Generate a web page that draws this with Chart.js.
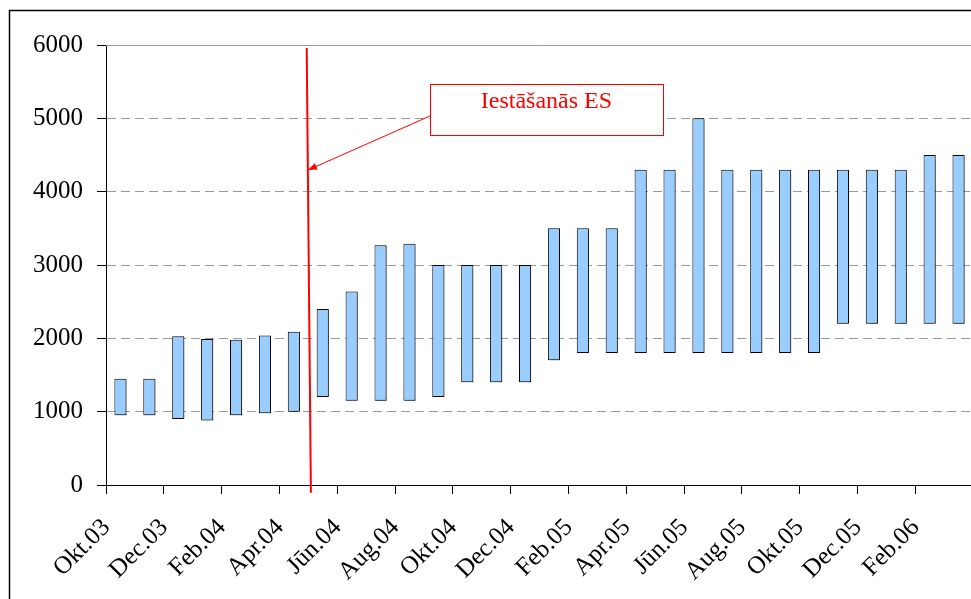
<!DOCTYPE html>
<html><head><meta charset="utf-8">
<script src="https://cdn.jsdelivr.net/npm/chart.js@4.4.1/dist/chart.umd.min.js"></script>
<style>
html,body{margin:0;padding:0;overflow:hidden;background:#fff;width:971px;height:599px}
#wrap{position:absolute;left:0;top:0;width:973px;height:599px}
</style>
</head><body><div id="wrap"><canvas id="c" width="973" height="599"></canvas></div>
<script>
const months = ['Okt.03','Nov.03','Dec.03','Jan.04','Feb.04','Mar.04','Apr.04','Mai.04','Jūn.04','Jūl.04','Aug.04','Sep.04','Okt.04','Nov.04','Dec.04','Jan.05','Feb.05','Mar.05','Apr.05','Mai.05','Jūn.05','Jūl.05','Aug.05','Sep.05','Okt.05','Nov.05','Dec.05','Jan.06','Feb.06','Mar.06'];
const lowValues  = [950,950,900,880,950,980,1000,1200,1150,1150,1150,1200,1400,1400,1400,1700,1800,1800,1800,1800,1800,1800,1800,1800,1800,2200,2200,2200,2200,2200];
const highValues = [1450,1450,2030,1990,1980,2040,2090,2400,2640,3270,3290,3000,3000,3000,3000,3500,3500,3500,4300,4300,5000,4300,4300,4300,4300,4300,4300,4300,4500,4500];
const yMin = 0, yMax = 6000, yStep = 1000;
const annotationText = 'Iestāšanās ES';
// annotation anchors in data coordinates (category index, value)
const eventLine = { fromIndex: 6.445, fromValue: 5960, toIndex: 6.59, toValue: -105 };
const calloutBox = { left: 10.71, right: 18.77, top: 5466, bottom: 4773 };
const calloutArrow = { fromIndex: 10.71, fromValue: 5032, toIndex: 6.49, toValue: 4295 };

const FONT = "'Liberation Serif', 'Times New Roman', serif";

const ranges = months.map((m, i) => [lowValues[i], highValues[i]]);

const decoPlugin = {
  id: 'deco',
  beforeDraw(chart) {
    const ctx = chart.ctx;
    ctx.save();
    ctx.fillStyle = '#fff';
    ctx.fillRect(0, 0, chart.width, chart.height);
    ctx.restore();
  },
  beforeDatasetsDraw(chart) {
    const ctx = chart.ctx, y = chart.scales.y, a = chart.chartArea;
    ctx.save();
    ctx.strokeStyle = '#9a9a9a';
    ctx.lineWidth = 1;
    ctx.beginPath();
    const yt = Math.round(y.getPixelForValue(yMax)) + 0.5;
    ctx.moveTo(a.left, yt); ctx.lineTo(a.right, yt);
    ctx.stroke();
    ctx.restore();
    ctx.save();
    ctx.shadowColor = 'rgba(0,0,0,0.3)';
    ctx.shadowOffsetX = 2;
    ctx.shadowOffsetY = 1;
    ctx.shadowBlur = 1;
  },
  afterDatasetsDraw(chart) {
    const ctx = chart.ctx;
    ctx.restore();
    const x = chart.scales.x, y = chart.scales.y;
    ctx.save();
    ctx.strokeStyle = '#ff0000';
    ctx.lineWidth = 2;
    ctx.beginPath();
    ctx.moveTo(x.getPixelForValue(eventLine.fromIndex), y.getPixelForValue(eventLine.fromValue));
    ctx.lineTo(x.getPixelForValue(eventLine.toIndex), y.getPixelForValue(eventLine.toValue));
    ctx.stroke();
    const bl = x.getPixelForValue(calloutBox.left), br = x.getPixelForValue(calloutBox.right);
    const bt = y.getPixelForValue(calloutBox.top), bb = y.getPixelForValue(calloutBox.bottom);
    ctx.fillStyle = '#fff';
    ctx.fillRect(bl, bt, br - bl, bb - bt);
    ctx.lineWidth = 1;
    ctx.strokeRect(Math.round(bl) + 0.5, Math.round(bt) + 0.5, Math.round(br - bl), Math.round(bb - bt));
    ctx.fillStyle = '#ff0000';
    ctx.font = '24px ' + FONT;
    ctx.textAlign = 'center';
    ctx.textBaseline = 'alphabetic';
    ctx.fillText(annotationText, (bl + br) / 2, bt + 24);
    const ax0 = x.getPixelForValue(calloutArrow.fromIndex), ay0 = y.getPixelForValue(calloutArrow.fromValue);
    const ax1 = x.getPixelForValue(calloutArrow.toIndex), ay1 = y.getPixelForValue(calloutArrow.toValue);
    ctx.beginPath();
    ctx.moveTo(ax0, ay0); ctx.lineTo(ax1, ay1);
    ctx.stroke();
    const ang = Math.atan2(ay1 - ay0, ax1 - ax0);
    const hl = 9, hw = 3.5;
    ctx.beginPath();
    ctx.moveTo(ax1, ay1);
    ctx.lineTo(ax1 - hl * Math.cos(ang) + hw * Math.sin(ang), ay1 - hl * Math.sin(ang) - hw * Math.cos(ang));
    ctx.lineTo(ax1 - hl * Math.cos(ang) - hw * Math.sin(ang), ay1 - hl * Math.sin(ang) + hw * Math.cos(ang));
    ctx.closePath();
    ctx.fill();
    ctx.restore();
  },
  afterDraw(chart) {
    const ctx = chart.ctx;
    ctx.save();
    ctx.strokeStyle = '#000';
    ctx.lineWidth = 1.5;
    ctx.strokeRect(9.5, 10.5, 2000, 2000);
    ctx.restore();
  }
};

new Chart(document.getElementById('c'), {
  type: 'bar',
  data: {
    labels: months,
    datasets: [{
      data: ranges,
      backgroundColor: '#99ccff',
      borderColor: '#000',
      borderWidth: 1,
      borderSkipped: false,
      categoryPercentage: 1,
      barPercentage: 0.42
    }]
  },
  options: {
    responsive: false,
    animation: false,
    events: [],
    layout: { padding: { top: 45, left: 0, right: 0, bottom: 0 } },
    plugins: { legend: { display: false }, tooltip: { enabled: false }, title: { display: false } },
    scales: {
      x: {
        type: 'category',
        offset: true,
        afterFit(s) { s.height = 114; s.paddingLeft = 0; s.paddingRight = 0; },
        grid: {
          offset: true,
          drawOnChartArea: false,
          drawTicks: true,
          tickLength: 9,
          color: (c) => (c.index % 2 === 0 ? '#000' : 'rgba(0,0,0,0)'),
          tickColor: (c) => (c.index % 2 === 0 ? '#000' : 'rgba(0,0,0,0)'),
          lineWidth: 1
        },
        border: { display: true, color: '#000', width: 1 },
        ticks: {
          autoSkip: false,
          maxRotation: 45,
          minRotation: 45,
          padding: 19,
          labelOffset: -14,
          color: '#000',
          font: { family: FONT, size: 25 },
          callback: function (v, i) { return i % 2 === 0 ? this.getLabelForValue(v) : ''; }
        }
      },
      y: {
        min: yMin,
        max: yMax,
        afterFit(s) { s.width = 106; },
        grid: {
          color: '#9a9a9a',
          lineWidth: 1,
          drawTicks: true,
          tickLength: 9,
          tickColor: '#000',
          tickBorderDash: [],
          tickWidth: 1
        },
        border: { display: true, color: '#000', width: 1, dash: [9, 5] },
        ticks: {
          stepSize: yStep,
          padding: 14,
          color: '#000',
          font: { family: FONT, size: 25 },
          callback: (v) => String(v)
        }
      }
    }
  },
  plugins: [decoPlugin]
});
</script>
</body></html>
